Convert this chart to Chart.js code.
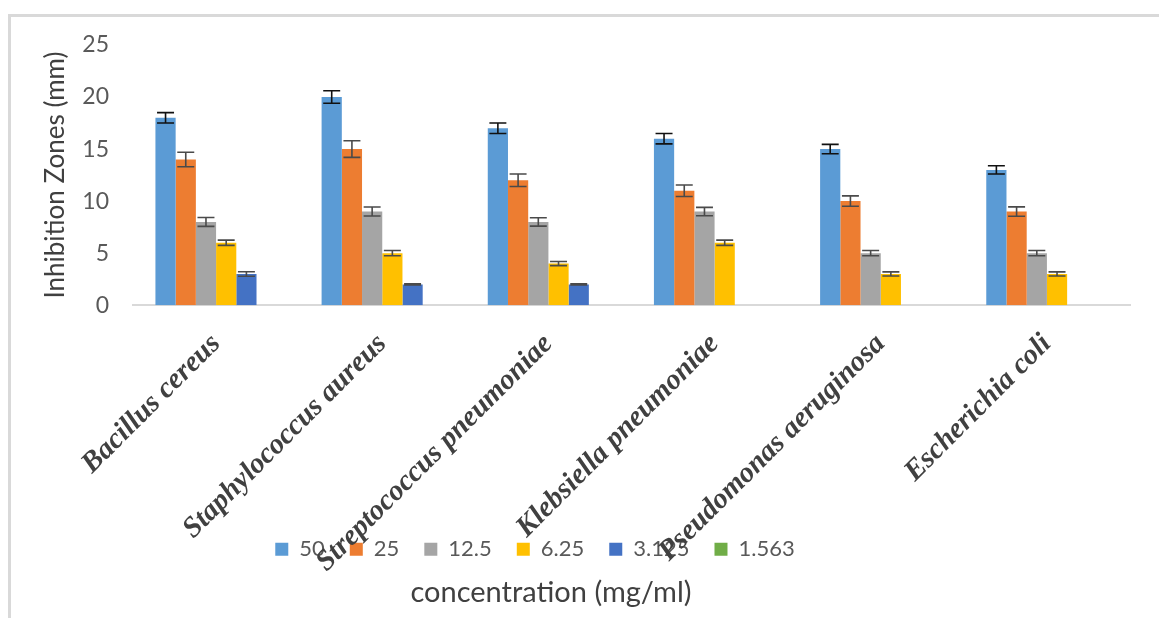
<!DOCTYPE html>
<html lang="en">
<head>
  <meta charset="UTF-8" />
  <title>Inhibition Zones</title>
  <script src="https://cdn.jsdelivr.net/npm/chart.js"></script>
  <style>
    body {
      margin: 0;
      background: #fff;
      overflow: hidden;
    }
    .frame {
      position: absolute;
      left: 8px;
      top: 14px;
      width: 1200px;
      height: 700px;
      border-top: 3px solid #d9d9d9;
      border-left: 3px solid #d9d9d9;
    }
    #chart {
      position: absolute;
      left: 0;
      top: 0;
    }
  </style>
</head>
<body>
  <div class="frame"></div>
  <canvas id="chart" width="1159" height="618"></canvas>

  <script>
    // categories (bacteria)
    const bacteria = ['Bacillus cereus', 'Staphylococcus aureus', 'Streptococcus pneumoniae',
                      'Klebsiella pneumoniae', 'Pseudomonas aeruginosa', 'Escherichia coli'];

    // concentrations (mg/ml) = series
    const concentrations = ['50', '25', '12.5', '6.25', '3.125', '1.563'];

    // inhibition zone (mm) per concentration
    const zone50  = [18, 20, 17, 16, 15, 13];
    const zone25  = [14, 15, 12, 11, 10, 9];
    const zone12  = [8, 9, 8, 9, 5, 5];
    const zone6   = [6, 5, 4, 6, 3, 3];
    const zone3   = [3, 2, 2, 0, 0, 0];
    const zone1   = [0, 0, 0, 0, 0, 0];

    // error bars (+/-)
    const err50 = [0.5, 0.6, 0.5, 0.5, 0.45, 0.4];
    const err25 = [0.7, 0.8, 0.6, 0.55, 0.5, 0.45];
    const err12 = [0.43, 0.43, 0.4, 0.4, 0.25, 0.25];
    const err6  = [0.25, 0.25, 0.2, 0.25, 0.2, 0.2];
    const err3  = [0.22, 0.05, 0.05, 0, 0, 0];
    const err1  = [0, 0, 0, 0, 0, 0];

    const yTicks = [0, 5, 10, 15, 20, 25];

    const colors = ['#5B9BD5', '#ED7D31', '#A5A5A5', '#FFC000', '#4472C4', '#70AD47'];
    const errColors = ['#111111', '#4a4a4a', '#4a4a4a', '#4a4a4a', '#4a4a4a', '#4a4a4a'];

    const values = [zone50, zone25, zone12, zone6, zone3, zone1];
    const errors = [err50, err25, err12, err6, err3, err1];

    const datasets = concentrations.map((c, k) => ({
      label: c,
      data: values[k],
      errors: errors[k],
      backgroundColor: colors[k],
      errColor: errColors[k],
      barPercentage: 1.0,
      categoryPercentage: 0.73
    }));

    // draw the error bars using the bar elements and y scale
    const errorBars = {
      id: 'errorBars',
      afterDatasetsDraw(chart) {
        const ctx = chart.ctx;
        const y = chart.scales.y;
        chart.data.datasets.forEach((ds, di) => {
          const meta = chart.getDatasetMeta(di);
          meta.data.forEach((bar, i) => {
            const e = ds.errors[i];
            if (!e) return;
            const v = ds.data[i];
            const top = y.getPixelForValue(v + e);
            const bot = y.getPixelForValue(v - e);
            const half = bar.width * 0.42;
            ctx.save();
            ctx.strokeStyle = ds.errColor;
            ctx.lineWidth = 1.6;
            ctx.beginPath();
            ctx.moveTo(bar.x, top); ctx.lineTo(bar.x, bot);
            ctx.moveTo(bar.x - half, top); ctx.lineTo(bar.x + half, top);
            ctx.moveTo(bar.x - half, bot); ctx.lineTo(bar.x + half, bot);
            ctx.stroke();
            ctx.restore();
          });
        });
      }
    };

    // legend and bottom title sit left of the plot centre, and the rotated
    // category labels run down into the legend row, like the original
    const shiftBottom = {
      id: 'shiftBottom',
      afterLayout(chart) {
        if (chart.legend) { chart.legend.left -= 45; chart.legend.right -= 45; }
        if (chart.titleBlock) { chart.titleBlock.left -= 29; chart.titleBlock.right -= 29; }
        chart.scales.x.bottom = chart.height;
      }
    };

    new Chart(document.getElementById('chart'), {
      type: 'bar',
      data: { labels: bacteria, datasets: datasets },
      plugins: [errorBars, shiftBottom],
      options: {
        responsive: false,
        animation: false,
        layout: { padding: { left: 30, right: 29, top: 45, bottom: 0 } },
        scales: {
          x: {
            grid: { display: false },
            border: { display: true, color: '#d9d9d9', width: 2 },
            ticks: {
              minRotation: 45,
              maxRotation: 45,
              autoSkip: false,
              padding: 14,
              color: '#404040',
              font: { family: 'Liberation Serif', size: 29, style: 'italic', weight: 'bold' }
            },
            afterFit(scale) { scale.height = 208; }
          },
          y: {
            min: 0,
            max: 25,
            afterBuildTicks(scale) { scale.ticks = yTicks.map(v => ({ value: v })); },
            grid: { display: false, drawTicks: false },
            border: { display: false },
            ticks: {
              padding: 24,
              color: '#595959',
              font: { family: 'Lato', size: 23 }
            },
            title: {
              display: true,
              text: 'Inhibition Zones (mm)',
              color: '#404040',
              padding: { top: 10, bottom: 0 },
              font: { family: 'Lato', size: 26 }
            },
            afterFit(scale) { scale.width = 103; }
          }
        },
        plugins: {
          legend: {
            position: 'bottom',
            labels: {
              boxWidth: 13,
              boxHeight: 13,
              padding: 25,
              color: '#595959',
              font: { family: 'Lato', size: 22 }
            }
          },
          title: {
            display: true,
            position: 'bottom',
            text: 'concentration (mg/ml)',
            color: '#404040',
            padding: { top: 5, bottom: 8 },
            font: { family: 'Lato', size: 29, weight: 'normal' }
          },
          tooltip: { enabled: false }
        }
      }
    });
  </script>
</body>
</html>
